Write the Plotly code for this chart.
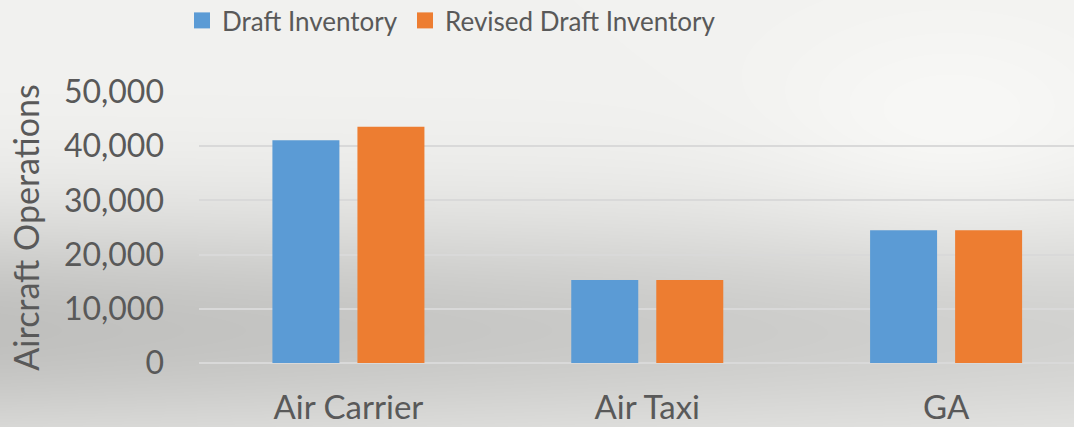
import base64, struct, zlib
import numpy as np
import plotly.graph_objects as go

categories = ["Air Carrier", "Air Taxi", "GA"]
draft_inventory = [41100, 15300, 24500]
revised_draft_inventory = [43600, 15300, 24500]
series_names = ["Draft Inventory", "Revised Draft Inventory"]
series_colors = ["#5B9BD5", "#ED7D31"]
y_ticks = [0, 10000, 20000, 30000, 40000, 50000]
y_tick_labels = ["0", "10,000", "20,000", "30,000", "40,000", "50,000"]

# --- soft cloudy-gray background image (decorative) ---
W, H = 1074, 427
yy, xx = np.mgrid[0:H, 0:W].astype(float)
v = 242 - 50 * np.exp(-((yy - 330) / 120.0) ** 2) * (1 - 0.35 * xx / W)
v += 8 * np.exp(-(((xx - 950) / 180.0) ** 2 + ((yy - 150) / 120.0) ** 2))
v = np.clip(v, 0, 255).astype(np.uint8)
rgb = np.stack([v, v, (v.astype(int) - 2).clip(0, 255).astype(np.uint8)], axis=2)
raw = b"".join(b"\x00" + rgb[r].tobytes() for r in range(H))
def chunk(t, d):
    c = struct.pack(">I", len(d)) + t + d
    return c + struct.pack(">I", zlib.crc32(t + d) & 0xFFFFFFFF)
png = b"\x89PNG\r\n\x1a\n" + chunk(b"IHDR", struct.pack(">IIBBBBB", W, H, 8, 2, 0, 0, 0)) \
      + chunk(b"IDAT", zlib.compress(raw, 9)) + chunk(b"IEND", b"")
bg_uri = "data:image/png;base64," + base64.b64encode(png).decode()

FONT = "Lato"
GRAY = "#595959"
L, T, B = 199, 92, 64
PW, PH = W - L, H - T - B

fig = go.Figure()
for name, vals, col in zip(series_names, [draft_inventory, revised_draft_inventory], series_colors):
    fig.add_trace(go.Bar(name=name, x=categories, y=vals, showlegend=False,
                         marker=dict(color=col, line=dict(width=0))))
# legend entries with larger square swatches, one legend box per entry
legend_ids = ["legend", "legend2"]
for name, col, lid in zip(series_names, series_colors, legend_ids):
    fig.add_trace(go.Scatter(name=name, x=[None], y=[None], mode="markers",
                             marker=dict(symbol="square", size=16, color=col),
                             showlegend=True, hoverinfo="skip", legend=lid))

leg_common = dict(orientation="h", xanchor="left", y=1 + (T + 3) / PH, yanchor="top",
                  font=dict(size=26, color=GRAY, family=FONT),
                  bgcolor="rgba(0,0,0,0)", itemwidth=30)
x1 = -17 / PW
fig.update_layout(
    width=W, height=H,
    margin=dict(l=L, r=0, t=T, b=B, autoexpand=False),
    paper_bgcolor="#e6e6e6",
    plot_bgcolor="rgba(0,0,0,0)",
    barmode="group",
    bargap=0.431,
    bargroupgap=0.212,
    font=dict(family=FONT, color=GRAY, size=30),
    showlegend=True,
    legend=dict(x=x1, **leg_common),
    legend2=dict(x=x1 + 223 / PW, **leg_common),
    images=[dict(source=bg_uri, xref="paper", yref="paper",
                 x=-L / PW, y=1 + T / PH, sizex=W / PW, sizey=H / PH,
                 xanchor="left", yanchor="top", layer="below", sizing="stretch")],
    xaxis=dict(range=[-0.5, 2.428], showgrid=False, showline=False, ticks="",
               ticklabelstandoff=22, automargin=False,
               tickfont=dict(size=33, color=GRAY, family=FONT), fixedrange=True),
    yaxis=dict(range=[0, 50000], tickvals=y_ticks, ticktext=y_tick_labels,
               showgrid=True, gridcolor="#d9d9d9", gridwidth=1.5, zeroline=True,
               zerolinecolor="#d9d9d9", zerolinewidth=1.5, showline=False,
               ticks="", ticklabelstandoff=34, automargin=False,
               tickfont=dict(size=32, color=GRAY, family=FONT),
               title=dict(text="Aircraft Operations", standoff=14,
                          font=dict(size=34, color=GRAY, family=FONT))),
)

fig.write_html("out.html", config={"displayModeBar": False}, post_script=(
    "document.body.style.margin='0';document.body.style.padding='0';"
    "document.body.style.overflow='hidden';"))
